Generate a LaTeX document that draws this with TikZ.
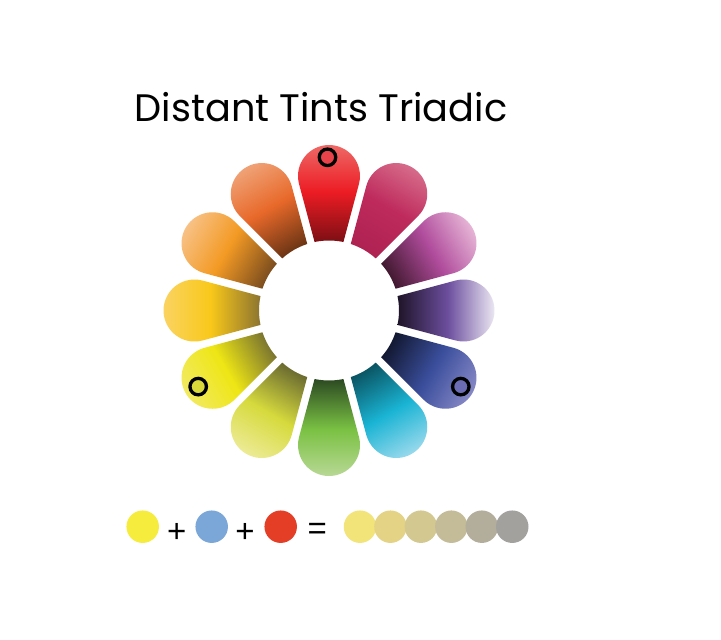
\documentclass[tikz,border=0pt]{standalone}
\usepackage{fontspec}
\newfontfamily\pop{Poppins}
\newfontfamily\lib{Liberation Sans}
\definecolor{rI}{HTML}{7B0F14}\definecolor{rM}{HTML}{EC1C24}\definecolor{rO}{HTML}{EE6E6A}
\definecolor{cI}{HTML}{AE2252}\definecolor{cM}{HTML}{BE2A5C}\definecolor{cO}{HTML}{D8708E}
\definecolor{mI}{HTML}{40182E}\definecolor{mM}{HTML}{B04C9C}\definecolor{mO}{HTML}{EABCDA}
\definecolor{pI}{HTML}{1E1428}\definecolor{pM}{HTML}{6C4E9E}\definecolor{pO}{HTML}{F4F2F8}
\definecolor{bI}{HTML}{121830}\definecolor{bM}{HTML}{3A4E9C}\definecolor{bO}{HTML}{8C8CC8}
\definecolor{tI}{HTML}{0A5462}\definecolor{tM}{HTML}{1AB4D4}\definecolor{tO}{HTML}{A2DCEE}
\definecolor{gI}{HTML}{2C4A22}\definecolor{gM}{HTML}{7AC143}\definecolor{gO}{HTML}{BCDA9A}
\definecolor{lI}{HTML}{6A6A30}\definecolor{lM}{HTML}{D6DA3C}\definecolor{lO}{HTML}{EEEC9C}
\definecolor{yI}{HTML}{7A7430}\definecolor{yM}{HTML}{EEE614}\definecolor{yO}{HTML}{F2EA66}
\definecolor{oI}{HTML}{8C7430}\definecolor{oM}{HTML}{F9C81A}\definecolor{oO}{HTML}{FAD466}
\definecolor{aI}{HTML}{7A4C1E}\definecolor{aM}{HTML}{F39A24}\definecolor{aO}{HTML}{F8C48C}
\definecolor{vI}{HTML}{6A3414}\definecolor{vM}{HTML}{E8692A}\definecolor{vO}{HTML}{F0A67C}
\definecolor{mkR}{HTML}{E8434A}\definecolor{mkY}{HTML}{D8D83A}\definecolor{mkB}{HTML}{6C6CB4}
\definecolor{dY}{HTML}{F5EC3D}\definecolor{dB}{HTML}{7BA7D8}\definecolor{dR}{HTML}{E53E27}
\definecolor{t1}{HTML}{F2E479}\definecolor{t2}{HTML}{E4D384}\definecolor{t3}{HTML}{D3C890}
\definecolor{t4}{HTML}{C4BB98}\definecolor{t5}{HTML}{B3AE9B}\definecolor{t6}{HTML}{A3A19E}
\newcommand\mypetal[4]{%
  \begin{scope}[transform canvas={shift={(329,-310.5)},rotate=#1}]
    \shade[left color=#2, right color=#4, middle color=#3]
      (11.89:70) -- (126.47,29.955) arc[start angle=105,end angle=-105,radius=31]
      -- (68.50,-14.42) arc[start angle=-11.89,end angle=11.89,radius=70] -- cycle;
  \end{scope}}
\tikzset{
  dot/.style={circle, minimum size=32.5, inner sep=0pt, draw=none},
  marker/.style={circle, minimum size=16.5, inner sep=0pt, draw=black, line width=3.3pt},
  sym/.style={inner sep=0pt, font=\lib\fontsize{33}{36}\selectfont},
}
\begin{document}
\begin{tikzpicture}[x=1pt,y=1pt]
\useasboundingbox[fill=white] (0,0) rectangle (721,-640);
\node[anchor=base west, inner sep=0pt, font=\pop\fontsize{38.3}{46}\selectfont] (title) at (134.5,-121) {Distant Tints Triadic};
\mypetal{90}{rI}{rM}{rO}
\mypetal{60}{cI}{cM}{cO}
\mypetal{30}{mI}{mM}{mO}
\mypetal{0}{pI}{pM}{pO}
\mypetal{-30}{bI}{bM}{bO}
\mypetal{-60}{tI}{tM}{tO}
\mypetal{-90}{gI}{gM}{gO}
\mypetal{-120}{lI}{lM}{lO}
\mypetal{-150}{yI}{yM}{yO}
\mypetal{180}{oI}{oM}{oO}
\mypetal{150}{aI}{aM}{aO}
\mypetal{120}{vI}{vM}{vO}
\node[marker, fill=mkR] (mk1) at (327.5,-157.3) {};
\node[marker, fill=mkY] (mk2) at (198.2,-386.6) {};
\node[marker, fill=mkB] (mk3) at (460.8,-386.6) {};
\node[dot, fill=dY] (c1) at (142.7,-526.7) {};
\node[sym] (p1) at (176.7,-533) {+};
\node[dot, fill=dB] (c2) at (211.7,-526.7) {};
\node[sym] (p2) at (245,-533) {+};
\node[dot, fill=dR] (c3) at (280.7,-526.7) {};
\node[sym] (eq) at (317.3,-531.5) {=};
\node[dot, fill=t1] (r1) at (360,-526.7) {};
\node[dot, fill=t2] (r2) at (390.45,-526.7) {};
\node[dot, fill=t3] (r3) at (420.9,-526.7) {};
\node[dot, fill=t4] (r4) at (451.35,-526.7) {};
\node[dot, fill=t5] (r5) at (481.8,-526.7) {};
\node[dot, fill=t6] (r6) at (512.25,-526.7) {};
\end{tikzpicture}
\end{document}
